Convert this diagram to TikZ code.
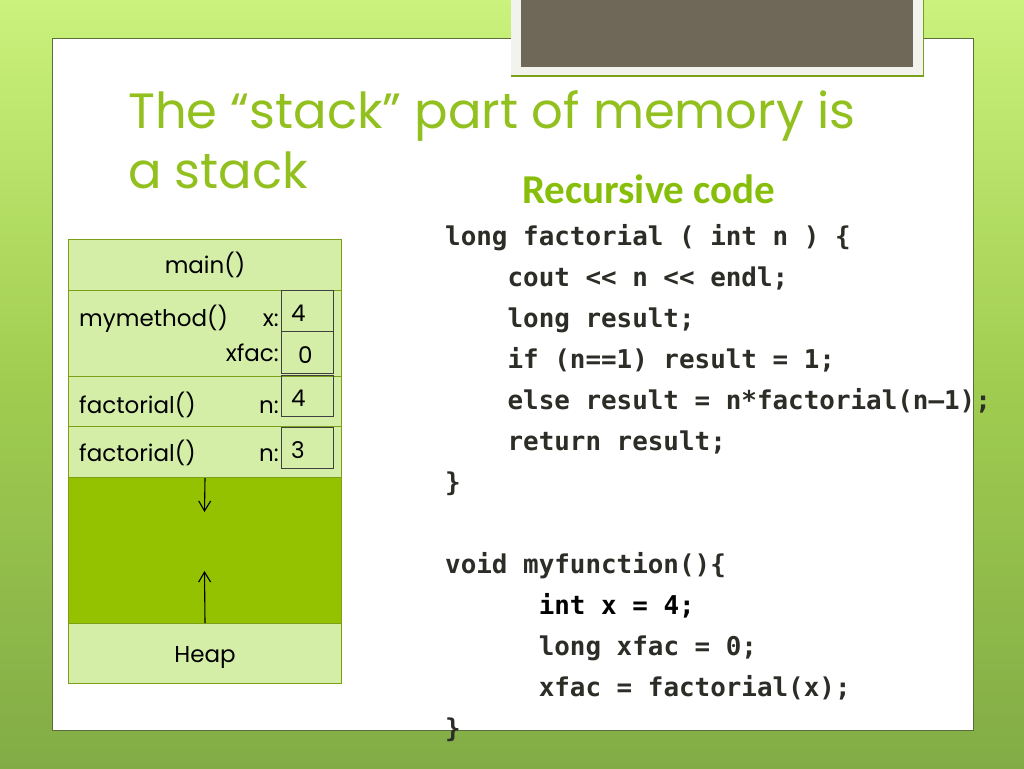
\documentclass[tikz,border=0pt]{standalone}
\usepackage{fontspec}
\usetikzlibrary{arrows.meta}
\setmainfont{Poppins}
\newfontfamily\codefont{DejaVu Sans Mono}
\newfontfamily\headfont{Carlito}
\definecolor{bgtop}{RGB}{202,242,124}
\definecolor{bgmid}{RGB}{160,205,80}
\definecolor{bgbot}{RGB}{130,172,70}
\definecolor{titlegreen}{RGB}{146,192,30}
\definecolor{headgreen}{RGB}{135,190,10}
\definecolor{cellfill}{RGB}{212,238,168}
\definecolor{cellline}{RGB}{122,160,24}
\definecolor{emptyfill}{RGB}{148,193,0}
\definecolor{panelline}{RGB}{90,110,60}
\definecolor{darkfill}{RGB}{111,104,89}
\definecolor{framefill}{RGB}{243,243,238}
\definecolor{codegray}{RGB}{45,45,40}
\tikzset{
  cell/.style={draw=cellline, line width=1pt, fill=cellfill, anchor=north west,
    minimum width=273pt, inner sep=0pt, font=\fontsize{23}{27}\selectfont},
  valbox/.style={draw=black!75, line width=0.8pt, anchor=north west,
    minimum width=52pt, inner sep=0pt},
  lbl/.style={anchor=base west, inner sep=0pt, font=\fontsize{23}{27}\selectfont},
  code/.style={anchor=base west, inner sep=0pt, text=codegray,
    font=\codefont\bfseries\fontsize{25.9}{30}\selectfont},
  stackarrow/.style={line width=1.1pt, -{Straight Barb[length=10pt,width=12pt,line width=1.1pt]}}
}
\begin{document}
\begin{tikzpicture}[x=1pt,y=-1pt]
\useasboundingbox (0,0) rectangle (1024,768);
% background
\shade[top color=bgtop, bottom color=bgbot, middle color=bgmid] (0,0) rectangle (1024,768);
% panel
\draw[panelline, fill=white, line width=0.8pt] (52,38) rectangle (973,730);
% top frame
\fill[cellline] (511,-2) rectangle (924,77);
\fill[framefill] (511,-2) rectangle (923,75);
\fill[darkfill] (521,-2) rectangle (913,67);
% title
\node[anchor=base west, inner sep=0pt, text=titlegreen, font=\fontsize{49.6}{60}\selectfont] (t1) at (128,128) {The “stack” part of memory is};
\node[anchor=base west, inner sep=0pt, text=titlegreen, font=\fontsize{49.6}{60}\selectfont] (t2) at (128,188) {a stack};
% stack cells
\node[cell, minimum height=51pt] (mainc) at (68,239) {};
\node[cell, minimum height=86pt] (mym) at (68,290) {};
\node[cell, minimum height=50pt] (f1) at (68,376) {};
\node[cell, minimum height=51pt] (f2) at (68,426) {};
\node[draw=cellline, line width=1pt, fill=emptyfill, anchor=north west, minimum width=273pt, minimum height=146pt, inner sep=0pt] (free) at (68,477) {};
\node[cell, minimum height=60pt] (heap) at (68,623) {};
\node[lbl, anchor=base] (lmain) at (205,273) {main()};
\node[lbl, anchor=base] (lheap) at (205,662) {Heap};
% labels
\node[lbl] (lm) at (79,326) {mymethod()};
\node[lbl, anchor=base east] (lxx) at (279,326) {x:};
\node[lbl, anchor=base east] (lx) at (279,361) {xfac:};
\node[lbl] (lf1) at (79,413) {factorial()};
\node[lbl, anchor=base east] (ln1) at (279,413) {n:};
\node[lbl] (lf2) at (79,461) {factorial()};
\node[lbl, anchor=base east] (ln2) at (279,461) {n:};
% value boxes
\node[valbox, minimum height=41pt] (vx) at (281,290) {};
\node[lbl] at (291,321) {4};
\node[valbox, minimum height=42pt] (vxf) at (281,331) {};
\node[lbl] at (298,363) {0};
\node[valbox, minimum height=41pt] (vn1) at (281,375) {};
\node[lbl] at (291,406) {4};
\node[valbox, minimum height=41pt] (vn2) at (281,427) {};
\node[lbl] at (291,458) {3};
% arrows
\coordinate (downend) at (204.5,512);
\coordinate (upend) at (204.5,571);
\draw[stackarrow] (f2.south) -- (downend);
\draw[stackarrow] (heap.north) -- (upend);
% heading
\node[anchor=base west, inner sep=0pt, text=headgreen, font=\headfont\bfseries\fontsize{41}{46}\selectfont] (head) at (522,203) {Recursive code};
% code
\node[code] (c1) at (445,245) {long factorial ( int n ) \{};
\node[code] (c2) at (445,286) {\hphantom{xxxx}cout << n << endl;};
\node[code] (c3) at (445,327) {\hphantom{xxxx}long result;};
\node[code] (c4) at (445,368) {\hphantom{xxxx}if (n==1) result = 1;};
\node[code] (c5) at (445,409) {\hphantom{xxxx}else result = n*factorial(n–1);};
\node[code] (c6) at (445,450) {\hphantom{xxxx}return result;};
\node[code] (c7) at (445,491) {\}};
\node[code] (c8) at (445,573) {void myfunction()\{};
\node[code, text=black] (c9) at (445,614) {\hphantom{xxxxxx}int x = 4;};
\node[code] (c10) at (445,655) {\hphantom{xxxxxx}long xfac = 0;};
\node[code] (c11) at (445,696) {\hphantom{xxxxxx}xfac = factorial(x);};
\node[code] (c12) at (445,737) {\}};
\end{tikzpicture}
\end{document}
